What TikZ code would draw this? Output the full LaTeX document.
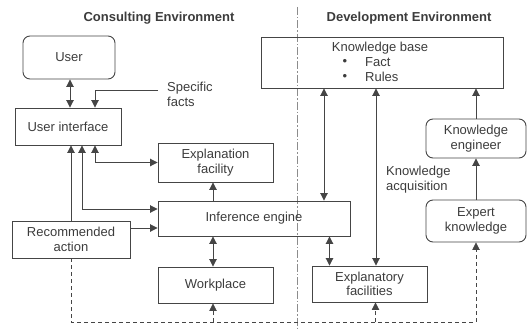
\documentclass[tikz,border=0pt]{standalone}
\usepackage{fontspec}
\setmainfont{Liberation Sans}
\usetikzlibrary{arrows.meta}
\definecolor{ink}{HTML}{3C3C3C}
\definecolor{lineink}{HTML}{454545}
\begin{document}
\begin{tikzpicture}[x=1pt,y=-1pt,
  font=\fontsize{13}{14.5}\selectfont, text=ink,
  box/.style={draw=lineink, line width=0.9pt, align=center, inner sep=0pt},
  rbox/.style={box, rounded corners=7pt},
  tip/.style={-{Triangle[length=7.5pt,width=7.5pt]}},
  conn/.style={draw=lineink, line width=0.9pt, tip},
  both/.style={draw=lineink, line width=0.9pt, {Triangle[length=7.5pt,width=7.5pt]}-{Triangle[length=7.5pt,width=7.5pt]}},
  plain/.style={draw=lineink, line width=0.9pt},
  dsh/.style={draw=lineink, line width=0.8pt, dash pattern=on 4pt off 3pt},
  dshtip/.style={dsh, tip},
  divider/.style={draw=black!45, line width=0.8pt, dash pattern=on 8pt off 2pt on 1.5pt off 2pt},
  title/.style={font=\fontsize{13}{14.5}\selectfont\bfseries, text=ink}
]
\useasboundingbox (0,0) rectangle (527,329);

% titles
\node[title] (t1) at (159,18) {Consulting Environment};
\node[title] (t2) at (409,18) {Development Environment};

% divider
\coordinate (dtop) at (297,7);
\coordinate (dbot) at (297,329);
\draw[divider] (dtop) -- (dbot);

% boxes
\node[rbox, minimum width=92pt, minimum height=43pt] (user) at (69,57.5) {User};
\node[box, minimum width=106pt, minimum height=37pt] (ui) at (68,126.5) {User interface};
\node[box, minimum width=115pt, minimum height=39pt] (expl) at (215.5,162.5) {Explanation\\facility};
\node[box, minimum width=192pt, minimum height=35pt] (engine) at (254,218.5) {Inference engine};
\node[box, minimum width=118pt, minimum height=37pt] (rec) at (71,239.5) {Recommended\\action};
\node[box, minimum width=115pt, minimum height=36pt] (work) at (215.5,285) {Workplace};
\node[box, minimum width=115pt, minimum height=36pt] (ef) at (369.5,284) {Explanatory\\facilities};
\node[box, minimum width=242pt, minimum height=51pt] (kb) at (382,62.5) {};
\node[rbox, minimum width=100pt, minimum height=39pt] (ke) at (476,138.5) {Knowledge\\engineer};
\node[rbox, minimum width=100pt, minimum height=42pt] (ek) at (476,221) {Expert\\knowledge};

% knowledge base text
\node (kbt) at (380,48) {Knowledge base};
\node (b1) at (345,62) {\textbullet};
\node[anchor=west, inner sep=0pt] (f1) at (365,62) {Fact};
\node (b2) at (345,77) {\textbullet};
\node[anchor=west, inner sep=0pt] (f2) at (365,77) {Rules};

% labels
\node[anchor=west, align=left, inner sep=0pt] (sf) at (167,94.5) {Specific\\facts};
\node[anchor=west, align=left, inner sep=0pt] (ka) at (386,179.5) {Knowledge\\acquisition};

% helper coordinates
\coordinate (sfc) at (158,90);
\coordinate (bot) at (0,322);
\coordinate (e1) at ([yshift=9.5pt]engine.west);
\coordinate (e2) at ([yshift=-9.5pt]engine.west);
\coordinate (kx1) at ([xshift=-58pt]kb.south);
\coordinate (kx2) at ([xshift=-6pt]kb.south);

% user <-> ui
\draw[both] ([xshift=1pt]user.south) -- ([xshift=1pt]user.south |- ui.north);
% specific facts
\draw[conn] (sfc) -| ([xshift=27pt]ui.north);
% ui connections
\draw[conn] (rec.north) -- (rec.north |- ui.south);
\draw[both] (e1) -| ([xshift=14pt]ui.south);
\draw[both] (expl.west) -| ([xshift=27pt]ui.south);
\draw[conn] (rec.east |- e2) -- (e2);
% engine connections
\draw[conn] ([xshift=-2.5pt]expl.south |- engine.north) -- ([xshift=-2.5pt]expl.south);
\draw[both] ([xshift=-2.5pt]engine.south -| work.north) -- ([xshift=-2.5pt]work.north);
\draw[both] (kx1) -- (kx1 |- engine.north);
\draw[both] ([xshift=-40pt]ef.north |- engine.south) -- ([xshift=-40pt]ef.north);
\draw[both] (kx2) -- (kx2 |- ef.north);
% knowledge engineering
\draw[conn] (ke.north) -- (ke.north |- kb.south);
\draw[conn] (ek.north) -- (ke.south);
% dashed feedback
\draw[dshtip] (rec.south) -- (rec.south |- bot) -| (ek.south);
\draw[dshtip] ([xshift=-2.5pt]work.south |- bot) -- ([xshift=-2.5pt]work.south);
\draw[dshtip] ([xshift=6pt]ef.south |- bot) -- ([xshift=6pt]ef.south);
\end{tikzpicture}
\end{document}
